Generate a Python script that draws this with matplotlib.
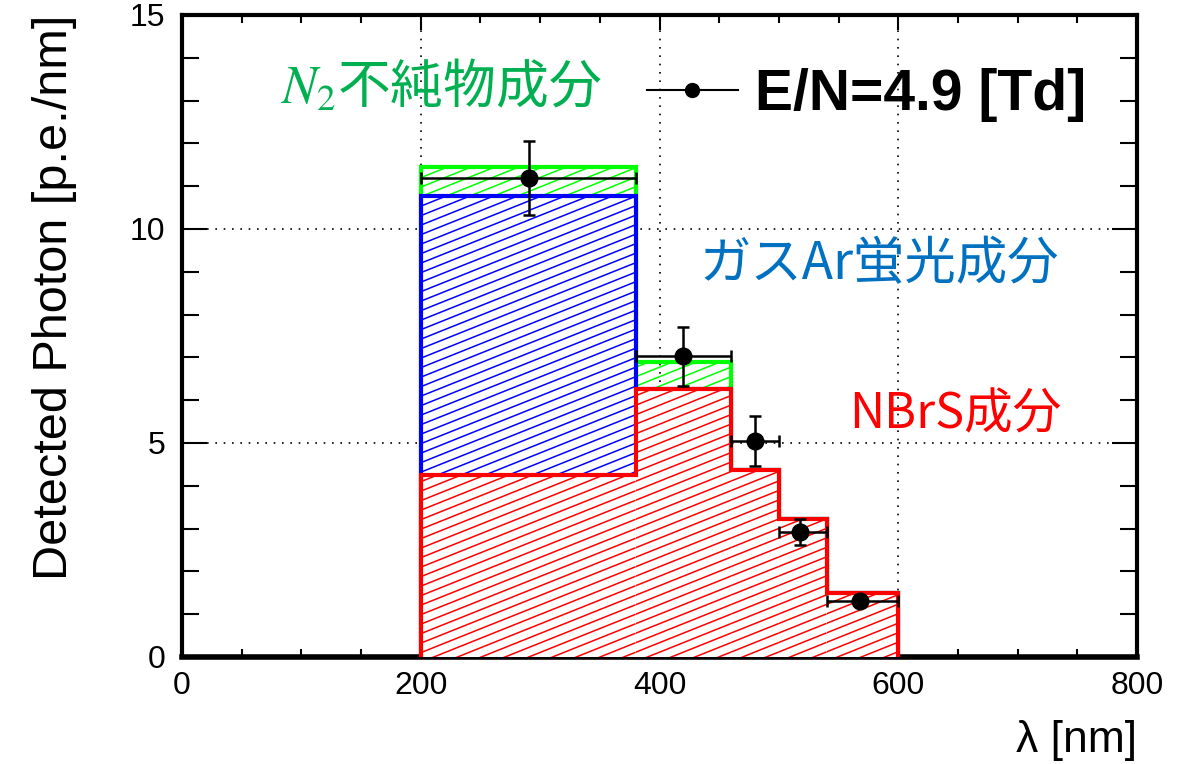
import numpy as np
import matplotlib
matplotlib.use("Agg")
import matplotlib.pyplot as plt
from matplotlib.patches import Rectangle
from matplotlib.collections import LineCollection
from matplotlib.lines import Line2D
from matplotlib.ticker import MultipleLocator

# wavelength bins [nm] and stacked components [p.e./nm]
edges = [200, 380, 460, 500, 540, 600]
nbrs = [4.25, 6.26, 4.37, 3.22, 1.50]
gas_ar = [6.52, 0.0, 0.0, 0.0, 0.0]
n2_imp = [0.68, 0.64, 0.0, 0.0, 0.0]

# measured points at E/N = 4.9 Td
x_mean = [291, 420, 480, 518, 568]
y_meas = [11.19, 7.03, 5.05, 2.92, 1.31]
y_err = [0.86, 0.69, 0.58, 0.30, 0.08]

plt.rcParams['font.family'] = ['Liberation Sans', 'DejaVu Sans']
plt.rcParams['mathtext.fontset'] = 'stix'

fig = plt.figure(figsize=(11.92, 7.64), dpi=100)
ax = fig.add_axes([182/1192, 1-657/764, (1137-182)/1192, (657-15)/764])
ax.set_xlim(0, 800)
ax.set_ylim(0, 15)

ax.grid(True, which='major', color='black', linestyle=(0, (1, 4)), linewidth=1.2, zorder=0.5)
ax.set_axisbelow(True)

slope = 0.40   # hatch slope in pixel space
gap = 9.5      # vertical hatch spacing in pixels


def hatch_box(x0, x1, y0, y1, color, z, white=True):
    if y1 - y0 <= 0:
        return
    rect = Rectangle((x0, y0), x1 - x0, y1 - y0,
                     facecolor='white' if white else 'none',
                     edgecolor='none', zorder=z)
    ax.add_patch(rect)
    (px0, py0), (px1, py1) = ax.transData.transform([(x0, y0), (x1, y1)])
    c_lo = py0 - slope * px1
    c_hi = py1 - slope * px0
    segs = []
    for k in range(int(np.floor(c_lo / gap)), int(np.ceil(c_hi / gap)) + 1):
        c = k * gap
        pts = [(px0, slope * px0 + c), (px1, slope * px1 + c)]
        segs.append(ax.transData.inverted().transform(pts))
    lc = LineCollection(segs, colors=color, linewidths=1.1, zorder=z + 0.1)
    ax.add_collection(lc, autolim=False)
    lc.set_clip_path(rect)


red_top = np.array(nbrs)
blue_top = red_top + np.array(gas_ar)
green_top = blue_top + np.array(n2_imp)

for i in range(len(nbrs)):
    hatch_box(edges[i], edges[i+1], blue_top[i], green_top[i], '#00ff00', 1.0, white=False)
    hatch_box(edges[i], edges[i+1], red_top[i], blue_top[i], '#0000ff', 2.0)
    hatch_box(edges[i], edges[i+1], 0, red_top[i], '#ff0000', 3.0)

ax.stairs(green_top, edges, baseline=0, color='#00ff00', linewidth=3, zorder=1.5)
ax.stairs(blue_top, edges, baseline=0, color='#0000ff', linewidth=3, zorder=2.5)
ax.stairs(red_top, edges, baseline=0, color='#ff0000', linewidth=3, zorder=3.5)

# horizontal error = bin extent around the mean wavelength
lo = [x_mean[i] - edges[i] for i in range(len(x_mean))]
hi = [edges[i+1] - x_mean[i] for i in range(len(x_mean))]
ax.errorbar(x_mean, y_meas, xerr=[lo, hi], yerr=y_err, fmt='o', color='black',
            markersize=12, elinewidth=1.8, capsize=4.5, capthick=1.8, zorder=5)

# frame and ticks
for s in ['left', 'top', 'right']:
    ax.spines[s].set_linewidth(3)
ax.spines['bottom'].set_linewidth(4)
ax.xaxis.set_major_locator(MultipleLocator(200))
ax.xaxis.set_minor_locator(MultipleLocator(50))
ax.yaxis.set_major_locator(MultipleLocator(5))
ax.yaxis.set_minor_locator(MultipleLocator(1))
ax.tick_params(which='both', direction='in', top=True, right=True, width=1.5,
               labelsize=23)
ax.tick_params(axis='x', which='major', length=11, pad=10)
ax.tick_params(axis='x', which='minor', length=6)
ax.tick_params(axis='y', which='major', length=18, pad=12)
ax.tick_params(axis='y', which='minor', length=12)

ax.set_ylabel('Detected Photon [p.e./nm]', fontsize=35, loc='top', labelpad=38)
ax.set_xlabel('λ [nm]', fontsize=32, loc='right', labelpad=14)

# legend
h = Line2D([], [], color='black', marker='o', markersize=10, linewidth=1.5)
leg = ax.legend([h], ['E/N=4.9 [Td]'], loc='center left', bbox_to_anchor=(0.457, 0.875),
                frameon=False, handlelength=1.6, handletextpad=0.3, borderpad=0,
                prop={'family': 'Liberation Sans', 'weight': 'bold', 'size': 41})

# component labels
jp = ['Noto Sans CJK JP', 'DejaVu Sans']
ax.text(0.103, 0.886, '$N_2$不純物成分', transform=ax.transAxes, fontsize=38,
        color='#00b050', family=jp, va='center', ha='left')
ax.text(0.542, 0.611, 'ガスAr蛍光成分', transform=ax.transAxes, fontsize=37,
        color='#0070c0', family=jp, va='center', ha='left')
ax.text(0.699, 0.377, 'NBrS成分', transform=ax.transAxes, fontsize=35,
        color='#ff0000', family=jp, va='center', ha='left')

fig.savefig('out.png', dpi=100)
